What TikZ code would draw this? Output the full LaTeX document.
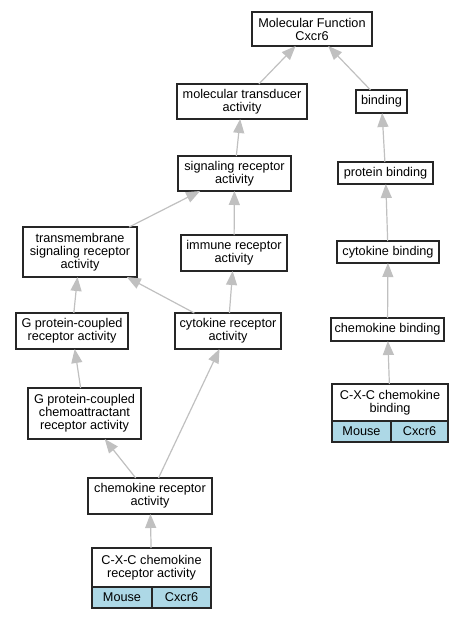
\documentclass[tikz,border=0pt]{standalone}
\usepackage{fontspec}
\setmainfont{Liberation Sans}
\usepackage{tikz}
\usetikzlibrary{arrows.meta,positioning}
\definecolor{tablecell}{HTML}{ADD8E6}
\definecolor{edgegray}{HTML}{C0C0C0}

\begin{document}
\begin{tikzpicture}[
x=1pt, y=-1pt,
font=\fontsize{12.7}{13}\selectfont,
term/.style={draw=black!85, line width=1.3pt, fill=white, align=center, inner sep=0pt, outer sep=0pt},
cell/.style={term, fill=tablecell, minimum height=21},
isa/.style={draw=edgegray, line width=1.2pt, -{Triangle[length=14pt,width=11pt,fill=edgegray]}}
]
    % Fix the page
    \useasboundingbox (0,0) rectangle (465,619);

    % Terms
    \node[term, minimum width=120, minimum height=34] (mf) at (312,29) {Molecular Function\\Cxcr6};
    \node[term, minimum width=130, minimum height=35] (transd) at (242,101.5) {molecular transducer\\activity};
    \node[term, minimum width=51, minimum height=23] (bind) at (381.5,101.5) {binding};
    \node[term, minimum width=113, minimum height=35] (sigrec) at (234.5,173.5) {signaling receptor\\activity};
    \node[term, minimum width=95, minimum height=22] (protbind) at (385.5,173) {protein binding};
    \node[term, minimum width=114, minimum height=50] (tmsigrec) at (80,252) {transmembrane\\signaling receptor\\activity};
    \node[term, minimum width=106, minimum height=36] (immrec) at (234,253) {immune receptor\\activity};
    \node[term, minimum width=102, minimum height=22] (cytbind) at (388,252) {cytokine binding};
    \node[term, minimum width=112, minimum height=36] (gpcr) at (72,331) {G protein-coupled\\receptor activity};
    \node[term, minimum width=106, minimum height=36] (cytrec) at (228,331) {cytokine receptor\\activity};
    \node[term, minimum width=113, minimum height=23] (chembind) at (387.5,329.5) {chemokine binding};
    \node[term, minimum width=113, minimum height=51] (gpcrchem) at (84.5,413.5) {G protein-coupled\\chemoattractant\\receptor activity};
    \node[term, minimum width=124, minimum height=36] (chemrec) at (150,496) {chemokine receptor\\activity};

    % Annotated terms
    \node[term, minimum width=116, minimum height=37] (cxcbind) at (390,402.5) {C-X-C chemokine\\binding};
    \node[cell, minimum width=59, anchor=north west] (cxcbindorg) at (cxcbind.south west) {Mouse};
    \node[cell, minimum width=57, anchor=north east] (cxcbindgene) at (cxcbind.south east) {Cxcr6};

    \node[term, minimum width=119, minimum height=39] (cxcrec) at (151.5,567.5) {C-X-C chemokine\\receptor activity};
    \node[cell, minimum width=60, anchor=north west] (cxcrecorg) at (cxcrec.south west) {Mouse};
    \node[cell, minimum width=59, anchor=north east] (cxcrecgene) at (cxcrec.south east) {Cxcr6};

    % is_a edges
    \draw[isa] (transd) -- (mf);
    \draw[isa] (bind) -- (mf);
    \draw[isa] (sigrec) -- (transd);
    \draw[isa] (protbind) -- (bind);
    \draw[isa] (tmsigrec) -- (sigrec);
    \draw[isa] (immrec) -- (sigrec);
    \draw[isa] (cytbind) -- (protbind);
    \draw[isa] (gpcr) -- (tmsigrec);
    \draw[isa] (cytrec) -- (tmsigrec);
    \draw[isa] (cytrec) -- (immrec);
    \draw[isa] (chembind) -- (cytbind);
    \draw[isa] (gpcrchem) -- (gpcr);
    \draw[isa] (cxcbind) -- (chembind);
    \draw[isa] (chemrec) -- (gpcrchem);
    \draw[isa] (chemrec) -- (cytrec);
    \draw[isa] (cxcrec) -- (chemrec);

\end{tikzpicture}
\end{document}
